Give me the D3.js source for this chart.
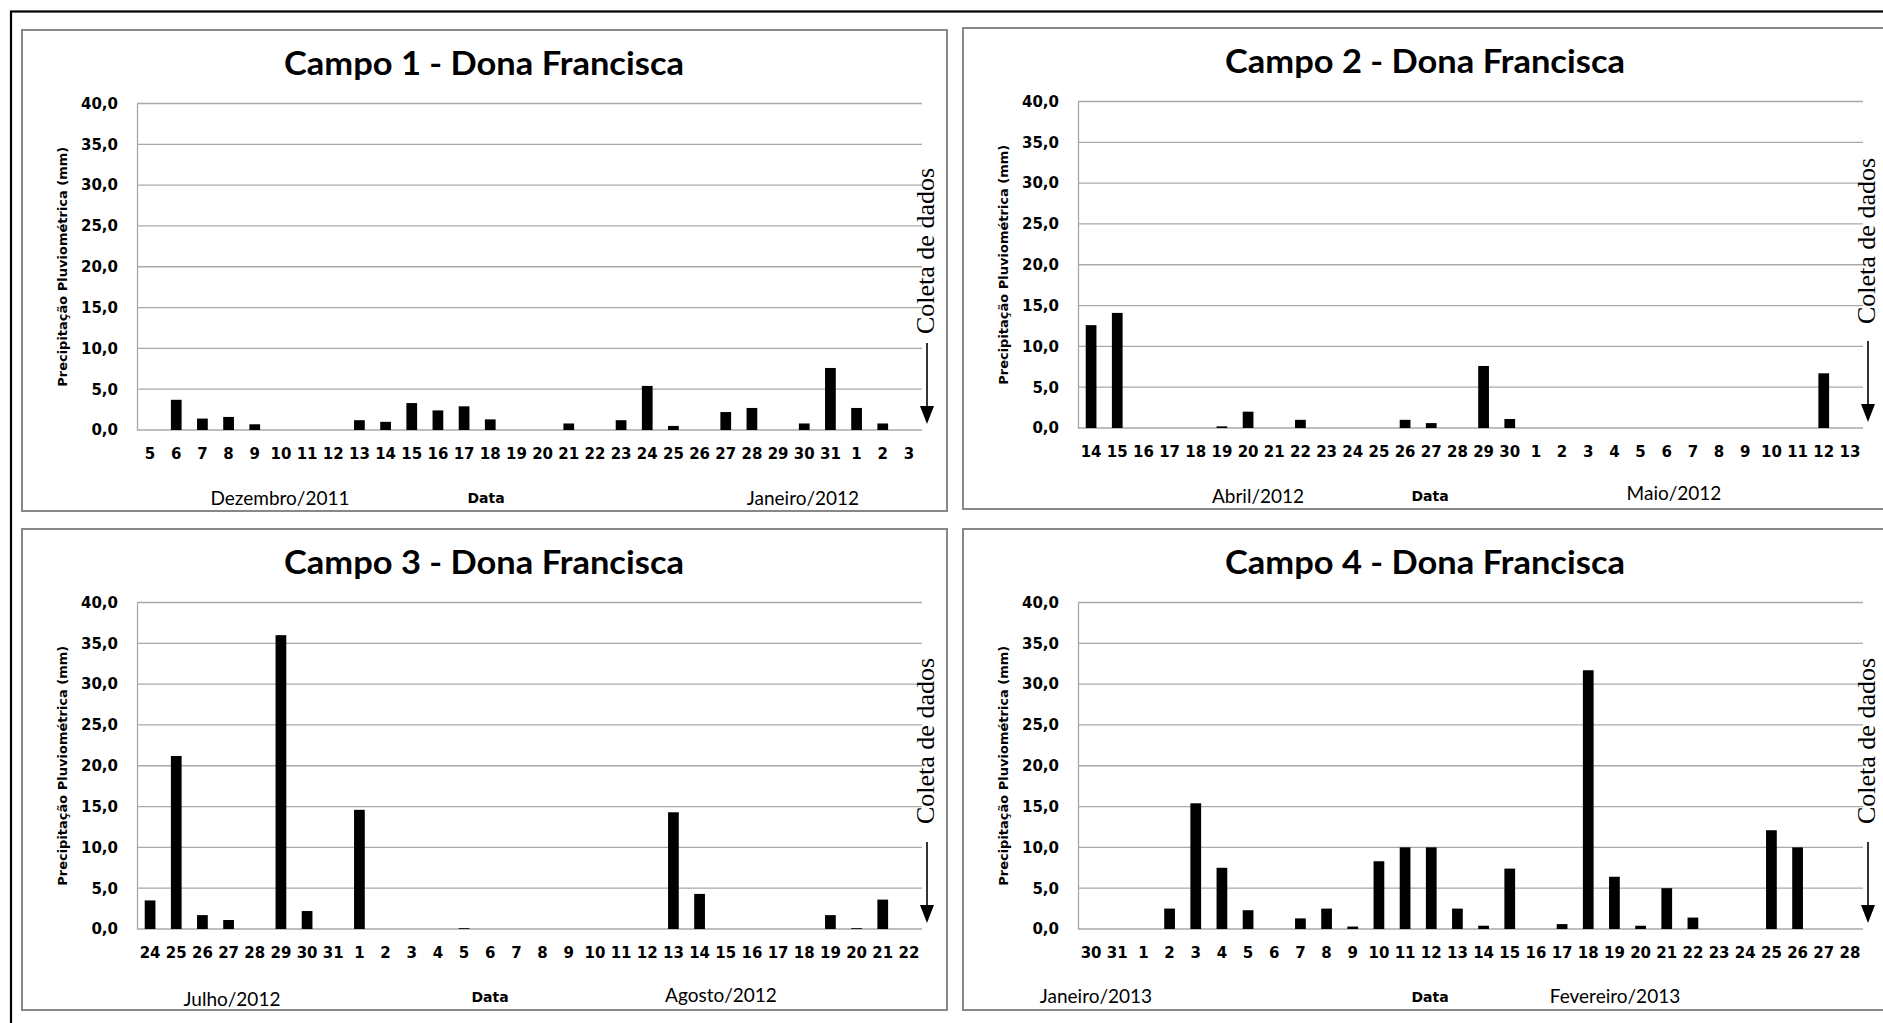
<!DOCTYPE html>
<html><head><meta charset="utf-8">
<script src="https://cdn.jsdelivr.net/npm/d3@7"></script>
<style>body{margin:0;background:#fff;overflow:hidden}</style>
</head><body>
<script>
// ---------- DATA ----------
const titles = ["Campo 1 - Dona Francisca","Campo 2 - Dona Francisca","Campo 3 - Dona Francisca","Campo 4 - Dona Francisca"];

const days1 = ["5","6","7","8","9","10","11","12","13","14","15","16","17","18","19","20","21","22","23","24","25","26","27","28","29","30","31","1","2","3"];
const rain1 = [0,3.7,1.4,1.6,0.7,0,0,0,1.2,1.0,3.3,2.4,2.9,1.3,0,0,0.8,0,1.2,5.4,0.5,0,2.2,2.7,0,0.8,7.6,2.7,0.8,0];
const months1 = ["Dezembro/2011","Janeiro/2012"];

const days2 = ["14","15","16","17","18","19","20","21","22","23","24","25","26","27","28","29","30","1","2","3","4","5","6","7","8","9","10","11","12","13"];
const rain2 = [12.6,14.1,0,0,0,0.2,2.0,0,1.0,0,0,0,1.0,0.6,0,7.6,1.1,0,0,0,0,0,0,0,0,0,0,0,6.7,0];
const months2 = ["Abril/2012","Maio/2012"];

const days3 = ["24","25","26","27","28","29","30","31","1","2","3","4","5","6","7","8","9","10","11","12","13","14","15","16","17","18","19","20","21","22"];
const rain3 = [3.5,21.2,1.7,1.1,0,36.0,2.2,0,14.6,0,0,0,0.1,0,0,0,0,0,0,0,14.3,4.3,0,0,0,0,1.7,0.1,3.6,0];
const months3 = ["Julho/2012","Agosto/2012"];

const days4 = ["30","31","1","2","3","4","5","6","7","8","9","10","11","12","13","14","15","16","17","18","19","20","21","22","23","24","25","26","27","28"];
const rain4 = [0,0,0,2.5,15.4,7.5,2.3,0,1.3,2.5,0.3,8.3,10.0,10.0,2.5,0.4,7.4,0,0.6,31.7,6.4,0.4,5.0,1.4,0,0,12.1,10.0,0,0];
const months4 = ["Janeiro/2013","Fevereiro/2013"];

const yTicks = [0,5,10,15,20,25,30,35,40];
const xAxisTitle = "Data";
const yAxisTitle = "Precipitação Pluviométrica (mm)";
const noteText = "Coleta de dados";

// ---------- LAYOUT ----------
const W = 1883, H = 1023;
const PW = 925, PH = 481, PL = 115, PR = 900, PT = 73.5, PB = 400;
const panels = [
  {x:22,  y:30,  title:titles[0], days:days1, vals:rain1, months:months1, monthX:[258,781], monthY:[467,467], dataX:464, noteY:221},
  {x:963, y:28,  title:titles[1], days:days2, vals:rain2, months:months2, monthX:[295,711], monthY:[467,464], dataX:467, noteY:213},
  {x:22,  y:529, title:titles[2], days:days3, vals:rain3, months:months3, monthX:[210,699], monthY:[469,465], dataX:468, noteY:212},
  {x:963, y:529, title:titles[3], days:days4, vals:rain4, months:months4, monthX:[133,652], monthY:[466,466], dataX:467, noteY:212}
];

const svg = d3.select("body").append("svg").attr("width", W).attr("height", H);
svg.append("rect").attr("width", W).attr("height", H).attr("fill", "#fff");
// outer frame (extends beyond the picture on right and bottom)
svg.append("rect").attr("x", 11).attr("y", 11.5).attr("width", 2000).attr("height", 1200)
  .attr("fill", "none").attr("stroke", "#000").attr("stroke-width", 2.2);

const fmt = d => d3.format(".1f")(d).replace(".", ",");
const gridCol = "#a9a9a9";

panels.forEach(p => {
  const g = svg.append("g").attr("transform", `translate(${p.x},${p.y})`);
  g.append("rect").attr("x", 0).attr("y", 0).attr("width", PW).attr("height", PH)
    .attr("fill", "#fff").attr("stroke", "#878787").attr("stroke-width", 2);

  const x = d3.scaleBand().domain(d3.range(p.days.length)).range([PL, PR])
    .paddingInner(0.59).paddingOuter(0.295);
  const y = d3.scaleLinear().domain([0, 40]).range([PB, PT]);

  // gridlines
  g.append("g").selectAll("line").data(yTicks).join("line")
    .attr("x1", PL).attr("x2", PR)
    .attr("y1", d => y(d)).attr("y2", d => y(d))
    .attr("stroke", gridCol).attr("stroke-width", 1.3);

  // y axis
  const ya = g.append("g").attr("transform", `translate(${PL},0)`)
    .call(d3.axisLeft(y).tickValues(yTicks).tickSize(0).tickSizeOuter(0).tickPadding(19).tickFormat(fmt));
  ya.select(".domain").attr("stroke", gridCol).attr("stroke-width", 1.3);
  ya.selectAll("text").attr("font-family", "DejaVu Sans").attr("font-weight", "bold")
    .attr("font-size", 15).attr("fill", "#000");

  // bars
  g.append("g").selectAll("rect").data(p.vals).join("rect")
    .attr("x", (d, i) => x(i)).attr("width", x.bandwidth())
    .attr("y", d => y(d)).attr("height", d => y(0) - y(d))
    .attr("fill", "#000");

  // x axis
  const xa = g.append("g").attr("transform", `translate(0,${PB})`)
    .call(d3.axisBottom(x).tickSize(0).tickSizeOuter(0).tickPadding(18).tickFormat(i => p.days[i]));
  xa.select(".domain").remove();
  xa.selectAll("text").attr("font-family", "DejaVu Sans").attr("font-weight", "bold")
    .attr("font-size", 15).attr("fill", "#000");

  // title
  g.append("text").attr("x", 462).attr("y", 45).attr("text-anchor", "middle")
    .attr("font-family", "Lato").attr("font-weight", "bold").attr("font-size", 32)
    .attr("textLength", 400).attr("lengthAdjust", "spacingAndGlyphs")
    .text(p.title);

  // y axis title
  g.append("text").attr("transform", `translate(45,${(PT + PB) / 2}) rotate(-90)`)
    .attr("text-anchor", "middle")
    .attr("font-family", "DejaVu Sans").attr("font-weight", "bold").attr("font-size", 13)
    .text(yAxisTitle);

  // x axis title
  g.append("text").attr("x", p.dataX).attr("y", 468).attr("text-anchor", "middle")
    .attr("dominant-baseline", "central")
    .attr("font-family", "DejaVu Sans").attr("font-weight", "bold").attr("font-size", 14)
    .text(xAxisTitle);

  // month labels
  p.months.forEach((m, i) => {
    g.append("text").attr("x", p.monthX[i]).attr("y", p.monthY[i]).attr("text-anchor", "middle")
      .attr("dominant-baseline", "central")
      .attr("font-family", "Lato").attr("font-size", 19)
      .text(m);
  });

  // "Coleta de dados" note with arrow
  g.append("text").attr("transform", `translate(912,${p.noteY}) rotate(-90)`)
    .attr("text-anchor", "middle")
    .attr("font-family", "Liberation Serif").attr("font-size", 26)
    .text(noteText);
  g.append("line").attr("x1", 905).attr("x2", 905).attr("y1", 313).attr("y2", 380)
    .attr("stroke", "#000").attr("stroke-width", 1.6);
  g.append("path").attr("d", "M898,376 L912,376 L905,394 Z").attr("fill", "#000");
});
</script>
</body></html>
